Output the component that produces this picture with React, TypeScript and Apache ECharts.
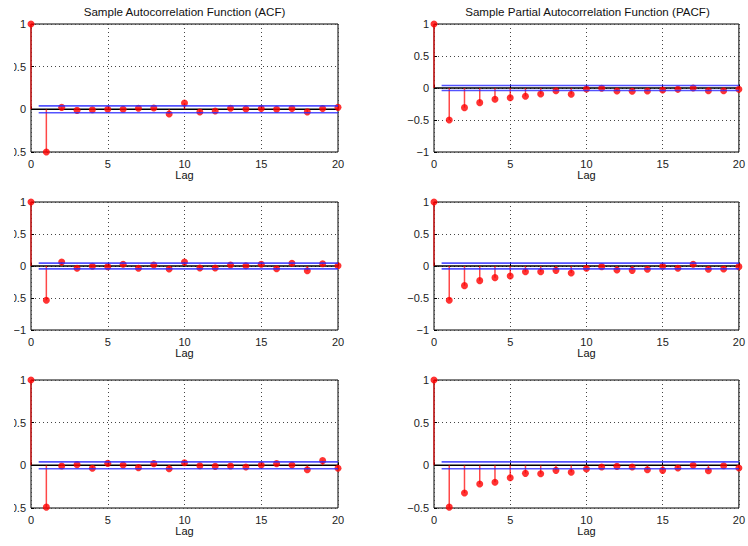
import React, { useEffect, useRef } from "react";
import * as echarts from "echarts";

// Lags shown on every panel
const lags = [0, 1, 2, 3, 4, 5, 6, 7, 8, 9, 10, 11, 12, 13, 14, 15, 16, 17, 18, 19, 20];

// Sample autocorrelations / partial autocorrelations, one array per panel
const acf1 = [1, -0.5, 0.023, -0.012, -0.005, 0.0, 0.0, 0.012, 0.016, -0.055, 0.074, -0.032, -0.02, 0.012, 0.005, 0.01, 0.002, 0.01, -0.03, 0.01, 0.023];
const pacf1 = [1, -0.5, -0.307, -0.229, -0.177, -0.151, -0.13, -0.094, -0.042, -0.099, -0.016, -0.005, -0.047, -0.052, -0.047, -0.031, -0.021, 0.0, -0.042, -0.042, -0.021];
const acf2 = [1, -0.536, 0.0625, -0.036, -0.005, -0.01, 0.026, -0.036, 0.016, -0.047, 0.0625, -0.031, -0.031, 0.016, 0.005, 0.026, -0.042, 0.042, -0.073, 0.036, 0.005];
const pacf2 = [1, -0.536, -0.307, -0.229, -0.182, -0.156, -0.089, -0.089, -0.068, -0.109, -0.036, -0.01, -0.0625, -0.068, -0.052, -0.005, -0.036, 0.026, -0.052, -0.047, -0.01];
const acf3 = [1, -0.49, -0.008, 0.008, -0.035, 0.023, 0.004, -0.027, 0.02, -0.039, 0.031, -0.004, -0.012, -0.008, -0.02, 0.004, 0.02, 0.004, -0.051, 0.055, -0.035];
const pacf3 = [1, -0.49, -0.324, -0.219, -0.199, -0.145, -0.094, -0.098, -0.059, -0.082, -0.043, -0.02, -0.012, -0.02, -0.051, -0.059, -0.031, 0.0, -0.0625, -0.004, -0.031];

// Panels in row-major order, with their y-axis lower limits and confidence bounds
const panelValues = [acf1, pacf1, acf2, pacf2, acf3, pacf3];
const yMins = [-0.5, -1, -1, -1, -0.5, -0.5];
const confBounds = [0.04, 0.04, 0.045, 0.045, 0.04, 0.04];

const titles = ["Sample Autocorrelation Function (ACF)", "Sample Partial Autocorrelation Function (PACF)"];

const FONT = "'Liberation Sans', Arial, Helvetica, sans-serif";
const COL_LEFT = [31, 434];
const ROW_TOP = [24, 202, 380];
const PW = 307;
const PH = 128;

const minusFmt = (v: number) => String(v).replace("-", "\u2212");

function buildOption() {
  const grid: any[] = [];
  const xAxis: any[] = [];
  const yAxis: any[] = [];
  const series: any[] = [];

  panelValues.forEach((vals, i) => {
    const col = i % 2;
    const row = Math.floor(i / 2);
    grid.push({
      left: COL_LEFT[col],
      top: ROW_TOP[row],
      width: PW,
      height: PH,
      show: true,
      borderColor: "#000",
      borderWidth: 1,
      backgroundColor: "transparent",
    });
    xAxis.push({
      type: "value",
      gridIndex: i,
      min: 0,
      max: 20,
      interval: 5,
      name: "Lag",
      nameLocation: "middle",
      nameGap: 16,
      nameTextStyle: { fontSize: 11, color: "#111", fontFamily: FONT },
      axisLine: { show: false },
      axisTick: { show: true, inside: true, length: 3, lineStyle: { color: "#000" } },
      axisLabel: { fontSize: 11, color: "#222", margin: 6, fontFamily: FONT, formatter: minusFmt },
      splitLine: { show: true, lineStyle: { color: "#444", type: [1, 3], width: 1 } },
    });
    yAxis.push({
      type: "value",
      gridIndex: i,
      min: yMins[i],
      max: 1,
      interval: 0.5,
      axisLine: { show: false },
      axisTick: { show: true, inside: true, length: 3, lineStyle: { color: "#000" } },
      axisLabel: { fontSize: 11, color: "#222", margin: 5, fontFamily: FONT, formatter: minusFmt },
      splitLine: { show: true, lineStyle: { color: "#444", type: [1, 3], width: 1 } },
    });

    const pts = lags.map((l, k) => [l, vals[k]]);

    // stem baseline
    series.push({
      type: "line",
      xAxisIndex: i,
      yAxisIndex: i,
      data: [[0, 0], [20, 0]],
      symbol: "none",
      silent: true,
      lineStyle: { color: "#000", width: 1.5 },
      z: 3,
    });
    // stems
    series.push({
      type: "custom",
      xAxisIndex: i,
      yAxisIndex: i,
      clip: false,
      silent: true,
      data: pts,
      encode: { x: 0, y: 1 },
      renderItem: (_p: any, api: any) => {
        const x = api.value(0);
        const y = api.value(1);
        const p0 = api.coord([x, 0]);
        const p1 = api.coord([x, y]);
        return {
          type: "line",
          shape: { x1: p0[0], y1: p0[1], x2: p1[0], y2: p1[1] },
          style: { stroke: "rgba(255,0,0,0.72)", lineWidth: 1.5 },
        };
      },
      z: 4,
    });
    // stem heads
    series.push({
      type: "scatter",
      xAxisIndex: i,
      yAxisIndex: i,
      clip: false,
      silent: true,
      data: pts,
      symbol: "circle",
      symbolSize: 7,
      itemStyle: { color: "#ff0000" },
      z: 5,
    });
    // confidence bounds
    [confBounds[i], -confBounds[i]].forEach((b) => {
      series.push({
        type: "line",
        xAxisIndex: i,
        yAxisIndex: i,
        data: [[0.5, b], [20, b]],
        symbol: "none",
        silent: true,
        lineStyle: { color: "rgba(40,40,255,0.8)", width: 1.6 },
        z: 6,
      });
    });
  });

  const graphic: any[] = [
    // left edge of the figure is cropped
    { type: "rect", shape: { x: 0, y: 0, width: 14, height: 546 }, style: { fill: "#fff" }, z: 100 },
  ];
  titles.forEach((t, c) => {
    graphic.push({
      type: "text",
      x: COL_LEFT[c] + PW / 2,
      y: 11,
      style: { text: t, align: "center", verticalAlign: "middle", font: `11.6px ${FONT}`, fill: "#111" },
      z: 100,
    });
  });

  return {
    animation: false,
    backgroundColor: "#fff",
    textStyle: { fontFamily: FONT },
    grid,
    xAxis,
    yAxis,
    series,
    graphic,
  };
}

export default function App() {
  const ref = useRef<HTMLDivElement>(null);
  useEffect(() => {
    if (!ref.current) return;
    const chart = echarts.init(ref.current, undefined, { renderer: "svg" });
    chart.setOption(buildOption() as any);
    return () => chart.dispose();
  }, []);
  return (
    <div
      ref={ref}
      style={{ position: "fixed", left: 0, top: 0, width: 748, height: 546, background: "#fff" }}
    />
  );
}
